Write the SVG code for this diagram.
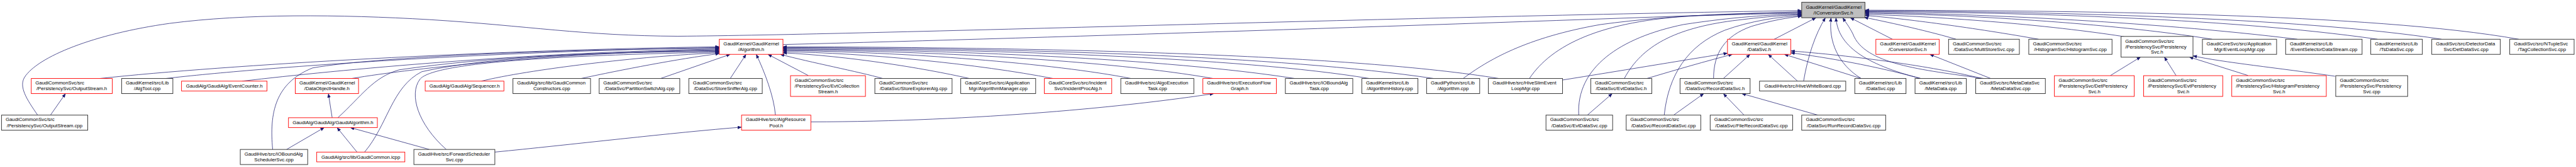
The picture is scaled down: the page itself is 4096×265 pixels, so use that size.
<svg xmlns="http://www.w3.org/2000/svg" width="4096" height="265" viewBox="0 0 4096 265">
<defs>
<style>
.n rect{fill:#fff;stroke:#333;stroke-width:1.6}
.n.r rect{stroke:#ff0000;stroke-width:1.5}
.n.root rect{fill:#bfbfbf;stroke:#333}
text{font-family:"Liberation Sans",Arial,Helvetica,sans-serif;font-size:13px;fill:#000}
text.c{text-anchor:middle}
#edges path{fill:none;stroke:#191970;stroke-width:1.25;marker-end:url(#arr)}
</style>
<marker id="arr" markerUnits="userSpaceOnUse" markerWidth="11" markerHeight="9" viewBox="0 0 11 9" refX="10.5" refY="4.5" orient="auto"><path d="M0,0 L11,4.5 L0,9 z" fill="#191970"/></marker>
</defs>
<rect x="0" y="0" width="4096" height="265" fill="#fff"/>
<g transform="scale(0.598830)">
<g id="edges">
<path d="M265,208 C600,172 1300,132 1910,124"/>
<path d="M440,208 C700,178 1300,136 1910,126"/>
<path d="M643,215 C900,185 1400,138 1910,130"/>
<path d="M934,208 C1100,180 1500,138 1910,132"/>
<path d="M897,312 C960,255 990,205 1060,185 C1300,150 1600,138 1910,134"/>
<path d="M724,396 C715,300 730,220 830,180 C1000,150 1500,130 1910,128"/>
<path d="M968,403 C1030,330 1040,230 1120,190 C1300,150 1600,138 1910,136"/>
<path d="M1185,396 C1110,330 1085,250 1115,210 C1140,180 1300,150 1910,138"/>
<path d="M1278,215 C1400,185 1700,148 1910,140"/>
<path d="M1543,208 C1650,185 1800,156 1910,142"/>
<path d="M1754,208 L1939,144"/>
<path d="M1939,208 L1981,144"/>
<path d="M2059,305 C2055,255 2030,190 2008,144"/>
<path d="M2146,200 L2039,144"/>
<path d="M2344,208 C2280,190 2150,165 2072,144"/>
<path d="M2574,208 C2450,180 2250,148 2079,140"/>
<path d="M2796,208 C2600,170 2300,140 2079,137"/>
<path d="M3003,208 C2800,168 2400,137 2079,134"/>
<path d="M3221,208 C2950,160 2450,134 2079,132"/>
<path d="M3438,208 C3100,155 2500,131 2079,130"/>
<path d="M3636,208 C3300,152 2600,129 2079,128"/>
<path d="M3807,208 C3400,148 2700,127 2079,126"/>
<path d="M3980,208 C3600,146 2800,125 2079,124"/>
<path d="M2079,118 C2800,100 4000,60 4784,31"/>
<path d="M100,305 C70,262 50,230 65,205 C100,150 250,90 450,62 C650,36 900,38 1140,52 C1400,68 1550,95 1800,96 C2300,92 3700,45 4784,28"/>
<path d="M134,305 L174,248"/>
<path d="M882,312 L872,248"/>
<path d="M761,396 L861,338"/>
<path d="M948,403 L895,338"/>
<path d="M1140,396 L930,338"/>
<path d="M1314,403 C1500,385 1800,350 1969,337"/>
<path d="M2153,323 C2600,322 3000,282 3223,248"/>
<path d="M3885,208 C3950,160 4050,100 4250,65 C4450,38 4650,34 4784,33"/>
<path d="M4061,208 C4120,120 4250,55 4500,42 C4650,37 4720,36 4784,35"/>
<path d="M4192,305 C4185,180 4300,100 4470,65 C4600,45 4700,39 4784,37"/>
<path d="M4313,208 C4360,120 4450,75 4600,55 C4680,45 4740,40 4784,39"/>
<path d="M4419,305 C4430,200 4480,120 4580,80 C4650,55 4720,45 4784,41"/>
<path d="M4550,208 C4550,140 4580,95 4650,70 C4700,55 4750,46 4784,43"/>
<path d="M4711,104 L4822,47"/>
<path d="M4789,215 C4800,150 4820,90 4847,47"/>
<path d="M4942,208 C4880,170 4855,110 4862,47"/>
<path d="M5100,208 C4950,170 4880,120 4875,47"/>
<path d="M5268,208 C5100,185 4950,170 4920,90 C4910,70 4900,58 4893,47"/>
<path d="M5025,104 L4913,47"/>
<path d="M5194,104 C5130,85 5030,62 4950,46"/>
<path d="M5413,104 C5250,75 5050,48 4952,41"/>
<path d="M5640,97 C5400,60 5100,42 4952,38"/>
<path d="M5874,104 C5600,60 5200,38 4952,35"/>
<path d="M6100,104 C5700,55 5200,35 4952,33"/>
<path d="M6313,104 C5900,45 5300,32 4952,31"/>
<path d="M6483,104 C6100,45 5400,30 4952,29"/>
<path d="M6688,104 C6300,35 5500,28 4952,27"/>
<path d="M4149,212 C4300,188 4450,163 4587,141"/>
<path d="M4373,208 C4450,185 4530,162 4600,144"/>
<path d="M4576,208 L4647,144"/>
<path d="M4773,215 L4695,144"/>
<path d="M4942,208 L4738,144"/>
<path d="M5100,208 C4980,175 4850,152 4755,140"/>
<path d="M5262,208 C5150,180 4950,150 4755,135"/>
<path d="M5286,208 L5124,144"/>
<path d="M4444,305 L4524,248"/>
<path d="M4631,305 L4576,248"/>
<path d="M4827,305 L4625,248"/>
<path d="M4215,305 L4281,248"/>
<path d="M5604,200 L5684,151"/>
<path d="M5778,200 L5747,151"/>
<path d="M5969,200 L5813,151"/>
<path d="M6200,202 C6050,180 5900,165 5823,148"/>
</g>

<g id="n_IConversionSvc" class="n root"><rect x="4784" y="6" width="168" height="41"/><text x="4795" y="22.8">GaudiKernel/GaudiKernel</text><text class="c" x="4868" y="38">/IConversionSvc.h</text></g>

<g id="n_Algorithm_h" class="n r"><rect x="1910" y="104" width="169" height="40"/><text x="1921" y="120.3">GaudiKernel/GaudiKernel</text><text class="c" x="1994.5" y="135.5">/Algorithm.h</text></g>
<g id="n_DataSvc_h" class="n r"><rect x="4587" y="104" width="168" height="40"/><text x="4598" y="120.3">GaudiKernel/GaudiKernel</text><text class="c" x="4671" y="135.5">/DataSvc.h</text></g>
<g id="n_ConversionSvc_h" class="n r"><rect x="4981" y="104" width="168" height="40"/><text x="4992" y="120.3">GaudiKernel/GaudiKernel</text><text class="c" x="5065" y="135.5">/ConversionSvc.h</text></g>
<g id="n_MultiStoreSvc" class="n"><rect x="5174" y="104" width="188" height="40"/><text x="5185" y="120.3">GaudiCommonSvc/src</text><text class="c" x="5268" y="135.5">/DataSvc/MultiStoreSvc.cpp</text></g>
<g id="n_HistogramSvc" class="n"><rect x="5387" y="104" width="221" height="40"/><text x="5398" y="120.3">GaudiCommonSvc/src</text><text class="c" x="5497.5" y="135.5">/HistogramSvc/HistogramSvc.cpp</text></g>
<g id="n_PersistencySvc_h" class="n"><rect x="5632" y="96.5" width="191" height="55"/><text x="5643" y="113.1">GaudiCommonSvc/src</text><text x="5643" y="127.9">/PersistencySvc/Persistency</text><text class="c" x="5727.5" y="142.7">Svc.h</text></g>
<g id="n_EventLoopMgr" class="n"><rect x="5848" y="104" width="197" height="40"/><text x="5859" y="120.3">GaudiCoreSvc/src/Application</text><text class="c" x="5946.5" y="135.5">Mgr/EventLoopMgr.cpp</text></g>
<g id="n_EventSelectorDataStream" class="n"><rect x="6069" y="104" width="203" height="40"/><text x="6080" y="120.3">GaudiKernel/src/Lib</text><text class="c" x="6170.5" y="135.5">/EventSelectorDataStream.cpp</text></g>
<g id="n_TsDataSvc" class="n"><rect x="6295" y="104" width="137" height="40"/><text x="6306" y="120.3">GaudiKernel/src/Lib</text><text class="c" x="6363.5" y="135.5">/TsDataSvc.cpp</text></g>
<g id="n_DetDataSvc" class="n"><rect x="6457" y="104" width="182" height="40"/><text x="6468" y="120.3">GaudiSvc/src/DetectorData</text><text class="c" x="6548" y="135.5">Svc/DetDataSvc.cpp</text></g>
<g id="n_TagCollectionSvc" class="n"><rect x="6664" y="104" width="171" height="40"/><text x="6675" y="120.3">GaudiSvc/src/NTupleSvc</text><text class="c" x="6749.5" y="135.5">/TagCollectionSvc.cpp</text></g>

<g id="n_OutputStream_h" class="n r"><rect x="83" y="208" width="215" height="40"/><text x="94" y="224.3">GaudiCommonSvc/src</text><text class="c" x="190.5" y="239.5">/PersistencySvc/OutputStream.h</text></g>
<g id="n_AlgTool" class="n"><rect x="323" y="208" width="136" height="40"/><text x="334" y="224.3">GaudiKernel/src/Lib</text><text class="c" x="391" y="239.5">/AlgTool.cpp</text></g>
<g id="n_EventCounter" class="n r"><rect x="482" y="215" width="227" height="26"/><text class="c" x="595.5" y="232">GaudiAlg/GaudiAlg/EventCounter.h</text></g>
<g id="n_DataObjectHandle" class="n r"><rect x="784" y="208" width="168" height="40"/><text x="795" y="224.3">GaudiKernel/GaudiKernel</text><text class="c" x="868" y="239.5">/DataObjectHandle.h</text></g>
<g id="n_Sequencer" class="n r"><rect x="1129" y="215" width="209" height="26"/><text class="c" x="1233.5" y="232">GaudiAlg/GaudiAlg/Sequencer.h</text></g>
<g id="n_GaudiCommonConstructors" class="n"><rect x="1362" y="208" width="206" height="40"/><text x="1373" y="224.3">GaudiAlg/src/lib/GaudiCommon</text><text class="c" x="1465" y="239.5">Constructors.cpp</text></g>
<g id="n_PartitionSwitchAlg" class="n"><rect x="1591" y="208" width="214" height="40"/><text x="1602" y="224.3">GaudiCommonSvc/src</text><text class="c" x="1698" y="239.5">/DataSvc/PartitionSwitchAlg.cpp</text></g>
<g id="n_StoreSnifferAlg" class="n"><rect x="1829" y="208" width="195" height="40"/><text x="1840" y="224.3">GaudiCommonSvc/src</text><text class="c" x="1926.5" y="239.5">/DataSvc/StoreSnifferAlg.cpp</text></g>
<g id="n_EvtCollectionStream" class="n r"><rect x="2099" y="200.5" width="199" height="55"/><text x="2110" y="217.1">GaudiCommonSvc/src</text><text x="2110" y="231.9">/PersistencySvc/EvtCollection</text><text class="c" x="2198.5" y="246.7">Stream.h</text></g>
<g id="n_StoreExplorerAlg" class="n"><rect x="2323" y="208" width="205" height="40"/><text x="2334" y="224.3">GaudiCommonSvc/src</text><text class="c" x="2425.5" y="239.5">/DataSvc/StoreExplorerAlg.cpp</text></g>
<g id="n_AlgorithmManager" class="n"><rect x="2551" y="208" width="199" height="40"/><text x="2562" y="224.3">GaudiCoreSvc/src/Application</text><text class="c" x="2650.5" y="239.5">Mgr/AlgorithmManager.cpp</text></g>
<g id="n_IncidentProcAlg" class="n r"><rect x="2773" y="208" width="179" height="40"/><text x="2784" y="224.3">GaudiCoreSvc/src/Incident</text><text class="c" x="2862.5" y="239.5">Svc/IncidentProcAlg.h</text></g>
<g id="n_AlgoExecutionTask" class="n"><rect x="2976" y="208" width="194" height="40"/><text x="2987" y="224.3">GaudiHive/src/AlgoExecution</text><text class="c" x="3073" y="239.5">Task.cpp</text></g>
<g id="n_ExecutionFlowGraph" class="n r"><rect x="3194" y="208" width="195" height="40"/><text x="3205" y="224.3">GaudiHive/src/ExecutionFlow</text><text class="c" x="3291.5" y="239.5">Graph.h</text></g>
<g id="n_IOBoundAlgTask" class="n"><rect x="3413" y="208" width="179" height="40"/><text x="3424" y="224.3">GaudiHive/src/IOBoundAlg</text><text class="c" x="3502.5" y="239.5">Task.cpp</text></g>
<g id="n_AlgorithmHistory" class="n"><rect x="3616" y="208" width="149" height="40"/><text x="3627" y="224.3">GaudiKernel/src/Lib</text><text class="c" x="3690.5" y="239.5">/AlgorithmHistory.cpp</text></g>
<g id="n_PyAlgorithm" class="n"><rect x="3788" y="208" width="141" height="40"/><text x="3799" y="224.3">GaudiPython/src/Lib</text><text class="c" x="3858.5" y="239.5">/Algorithm.cpp</text></g>
<g id="n_HiveSlimEventLoopMgr" class="n"><rect x="3952" y="208" width="197" height="40"/><text x="3963" y="224.3">GaudiHive/src/HiveSlimEvent</text><text class="c" x="4050.5" y="239.5">LoopMgr.cpp</text></g>
<g id="n_EvtDataSvc_h" class="n"><rect x="4224" y="208" width="162" height="40"/><text x="4235" y="224.3">GaudiCommonSvc/src</text><text class="c" x="4305" y="239.5">/DataSvc/EvtDataSvc.h</text></g>
<g id="n_RecordDataSvc_h" class="n"><rect x="4461" y="208" width="186" height="40"/><text x="4472" y="224.3">GaudiCommonSvc/src</text><text class="c" x="4554" y="239.5">/DataSvc/RecordDataSvc.h</text></g>
<g id="n_HiveWhiteBoard" class="n"><rect x="4672" y="215" width="229" height="26"/><text class="c" x="4786.5" y="232">GaudiHive/src/HiveWhiteBoard.cpp</text></g>
<g id="n_LibDataSvc" class="n"><rect x="4925" y="208" width="136" height="40"/><text x="4936" y="224.3">GaudiKernel/src/Lib</text><text class="c" x="4993" y="239.5">/DataSvc.cpp</text></g>
<g id="n_MetaData" class="n"><rect x="5085" y="208" width="136" height="40"/><text x="5096" y="224.3">GaudiKernel/src/Lib</text><text class="c" x="5153" y="239.5">/MetaData.cpp</text></g>
<g id="n_MetaDataSvc" class="n"><rect x="5246" y="208" width="185" height="40"/><text x="5257" y="224.3">GaudiSvc/src/MetaDataSvc</text><text class="c" x="5338.5" y="239.5">/MetaDataSvc.cpp</text></g>
<g id="n_DetPersistencySvc" class="n r"><rect x="5455" y="200.5" width="212" height="55"/><text x="5466" y="217.1">GaudiCommonSvc/src</text><text x="5466" y="231.9">/PersistencySvc/DetPersistency</text><text class="c" x="5561" y="246.7">Svc.h</text></g>
<g id="n_EvtPersistencySvc" class="n r"><rect x="5692" y="200.5" width="210" height="55"/><text x="5703" y="217.1">GaudiCommonSvc/src</text><text x="5703" y="231.9">/PersistencySvc/EvtPersistency</text><text class="c" x="5797" y="246.7">Svc.h</text></g>
<g id="n_HistogramPersistencySvc" class="n r"><rect x="5926" y="200.5" width="251" height="55"/><text x="5937" y="217.1">GaudiCommonSvc/src</text><text x="5937" y="231.9">/PersistencySvc/HistogramPersistency</text><text class="c" x="6051.5" y="246.7">Svc.h</text></g>
<g id="n_PersistencySvc_cpp" class="n"><rect x="6202" y="200.5" width="191" height="55"/><text x="6213" y="217.1">GaudiCommonSvc/src</text><text x="6213" y="231.9">/PersistencySvc/Persistency</text><text class="c" x="6297.5" y="246.7">Svc.cpp</text></g>

<g id="n_OutputStream_cpp" class="n"><rect x="4" y="305" width="229" height="40"/><text x="15" y="321.3">GaudiCommonSvc/src</text><text class="c" x="118.5" y="336.5">/PersistencySvc/OutputStream.cpp</text></g>
<g id="n_GaudiAlgorithm" class="n r"><rect x="766" y="312" width="236" height="26"/><text class="c" x="884" y="329">GaudiAlg/GaudiAlg/GaudiAlgorithm.h</text></g>
<g id="n_AlgResourcePool" class="n r"><rect x="1969" y="305" width="184" height="40"/><text x="1980" y="321.3">GaudiHive/src/AlgResource</text><text class="c" x="2061" y="336.5">Pool.h</text></g>
<g id="n_EvtDataSvc_cpp" class="n"><rect x="4105" y="305" width="177" height="40"/><text x="4116" y="321.3">GaudiCommonSvc/src</text><text class="c" x="4193.5" y="336.5">/DataSvc/EvtDataSvc.cpp</text></g>
<g id="n_RecordDataSvc_cpp" class="n"><rect x="4318" y="305" width="198" height="40"/><text x="4329" y="321.3">GaudiCommonSvc/src</text><text class="c" x="4417" y="336.5">/DataSvc/RecordDataSvc.cpp</text></g>
<g id="n_FileRecordDataSvc" class="n"><rect x="4541" y="305" width="219" height="40"/><text x="4552" y="321.3">GaudiCommonSvc/src</text><text class="c" x="4650.5" y="336.5">/DataSvc/FileRecordDataSvc.cpp</text></g>
<g id="n_RunRecordDataSvc" class="n"><rect x="4784" y="305" width="223" height="40"/><text x="4795" y="321.3">GaudiCommonSvc/src</text><text class="c" x="4895.5" y="336.5">/DataSvc/RunRecordDataSvc.cpp</text></g>

<g id="n_IOBoundAlgSchedulerSvc" class="n"><rect x="638" y="396" width="179" height="40"/><text x="649" y="412.3">GaudiHive/src/IOBoundAlg</text><text class="c" x="727.5" y="427.5">SchedulerSvc.cpp</text></g>
<g id="n_GaudiCommon_icpp" class="n r"><rect x="841" y="403" width="234" height="26"/><text class="c" x="958" y="420">GaudiAlg/src/lib/GaudiCommon.icpp</text></g>
<g id="n_ForwardSchedulerSvc" class="n"><rect x="1099" y="396" width="215" height="40"/><text x="1110" y="412.3">GaudiHive/src/ForwardScheduler</text><text class="c" x="1206.5" y="427.5">Svc.cpp</text></g>
</g>
</svg>
